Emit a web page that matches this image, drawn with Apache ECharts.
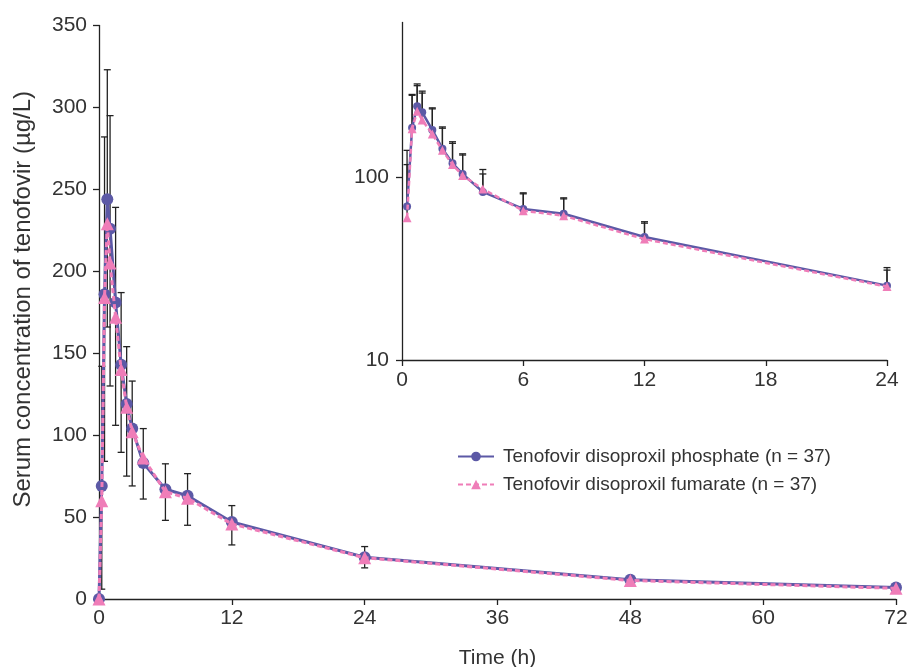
<!DOCTYPE html>
<html>
<head>
<meta charset="utf-8">
<script src="https://cdn.jsdelivr.net/npm/echarts@6/dist/echarts.min.js"></script>
<style>
html,body{margin:0;padding:0;background:#fff;}
#chart{width:909px;height:667px;}
</style>
</head>
<body>
<div id="chart"></div>
<script>
// ---- data ----
const times = [0, 0.25, 0.5, 0.75, 1, 1.5, 2, 2.5, 3, 4, 6, 8, 12, 24, 48, 72];
const tdpMean = [0, 69, 186, 244, 226, 181, 143, 119, 104, 83, 67, 63, 47, 25.5, 11.8, 7.0];
const tdfMean = [0, 60, 184, 229, 205, 172, 140, 117, 102, 86, 65.5, 61.5, 45.8, 25.2, 11.3, 6.5];
// main panel error bars (visible extent)
const mainBarLow  = [null, 6, 84, 166, 130, 106, 89.5, 75, 69, 61, 48, 45, 33, 19, 10, 6];
const mainBarHigh = [null, 142, 282, 323, 295, 239, 187, 154, 133, 104, 82.5, 76.5, 57, 32, 13.5, 8];
// inset upper error bars
const insetTdpHigh = [null, 140, 283, 323, 295, 239, 188, 156, 134, 104, 82, 77, 57, 32, null, null];
const insetTdfHigh = [null, 117, 280, 316, 288, 236, 185, 153, 132, 110, 81, 76, 56, 31, null, null];
const mainYTicks = [0, 50, 100, 150, 200, 250, 300, 350];
const mainXTicks = [0, 12, 24, 36, 48, 60, 72];
const insetXTicks = [0, 6, 12, 18, 24];
const insetYTicks = [10, 100];
const seriesNames = ['Tenofovir disoproxil phosphate (n = 37)', 'Tenofovir disoproxil fumarate (n = 37)'];

// ---- build ----
const PURPLE = '#5c59a6';
const PINK = '#ef7db8';
const INK = '#222';
const FONT = 'Liberation Sans, Arial, sans-serif';

const tdpMain = times.map((t, i) => [t, tdpMean[i]]);
const tdfMain = times.map((t, i) => [t, tdfMean[i]]);
const barMain = [];
times.forEach((t, i) => { if (mainBarLow[i] != null) barMain.push([t, mainBarLow[i], mainBarHigh[i]]); });

const inInset = (t) => t > 0 && t <= 24;
const tdpInset = [], tdfInset = [], barInsetTdp = [], barInsetTdf = [];
times.forEach((t, i) => {
  if (!inInset(t)) return;
  tdpInset.push([t, tdpMean[i]]);
  tdfInset.push([t, tdfMean[i]]);
  if (insetTdpHigh[i] != null) barInsetTdp.push([t, tdpMean[i], insetTdpHigh[i]]);
  if (insetTdfHigh[i] != null) barInsetTdf.push([t, tdfMean[i], insetTdfHigh[i]]);
});

function errRender(capHalf, lowerCap, lw) {
  return function (params, api) {
    const x = api.value(0), lo = api.value(1), hi = api.value(2);
    const p1 = api.coord([x, lo]);
    const p2 = api.coord([x, hi]);
    const st = { stroke: INK, lineWidth: lw };
    const children = [
      { type: 'line', shape: { x1: p1[0], y1: p1[1], x2: p2[0], y2: p2[1] }, style: st },
      { type: 'line', shape: { x1: p2[0] - capHalf, y1: p2[1], x2: p2[0] + capHalf, y2: p2[1] }, style: st }
    ];
    if (lowerCap) children.push({ type: 'line', shape: { x1: p1[0] - capHalf, y1: p1[1], x2: p1[0] + capHalf, y2: p1[1] }, style: st });
    return { type: 'group', children: children };
  };
}

const axisText = { color: '#333', fontSize: 21, fontFamily: FONT };
const axisLine = { lineStyle: { color: INK, width: 1.3 } };

const option = {
  animation: false,
  backgroundColor: '#fff',
  textStyle: { fontFamily: FONT },
  grid: [
    { left: 99, right: 13, top: 25.5, bottom: 68, containLabel: false, outerBoundsMode: 'none' },
    { left: 402, right: 22, top: 22.5, bottom: 307, containLabel: false, outerBoundsMode: 'none' }
  ],
  legend: {
    data: seriesNames,
    orient: 'vertical',
    left: 452, top: 442,
    itemWidth: 36, itemHeight: 12, itemGap: 9,
    textStyle: { color: '#333', fontSize: 19, fontFamily: FONT, padding: [0, 0, 0, 4] }
  },
  xAxis: [
    {
      gridIndex: 0, type: 'value', min: 0, max: 72, interval: 12,
      name: 'Time (h)', nameLocation: 'middle', nameGap: 49,
      nameTextStyle: { color: '#333', fontSize: 21, fontFamily: FONT },
      axisLine: axisLine, axisTick: { show: true, length: 6, lineStyle: { color: INK, width: 1.3 }, customValues: mainXTicks },
      axisLabel: Object.assign({ margin: 9, customValues: mainXTicks }, axisText),
      splitLine: { show: false }
    },
    {
      gridIndex: 1, type: 'value', min: 0, max: 24, interval: 6,
      axisLine: axisLine, axisTick: { show: true, length: 6, lineStyle: { color: INK, width: 1.3 }, customValues: insetXTicks },
      axisLabel: Object.assign({ margin: 10, customValues: insetXTicks }, axisText),
      splitLine: { show: false }
    }
  ],
  yAxis: [
    {
      gridIndex: 0, type: 'value', min: 0, max: 350, interval: 50,
      name: 'Serum concentration of tenofovir (µg/L)', nameLocation: 'middle', nameGap: 64,
      nameTextStyle: { color: '#333', fontSize: 24, fontFamily: FONT, padding: [0, 0, 0, 26] },
      axisLine: Object.assign({ show: true }, axisLine),
      axisTick: { show: true, length: 6, lineStyle: { color: INK, width: 1.3 }, customValues: mainYTicks },
      axisLabel: Object.assign({ margin: 12, customValues: mainYTicks }, axisText),
      splitLine: { show: false }
    },
    {
      gridIndex: 1, type: 'log', logBase: 10, min: 10, max: 700,
      axisLine: Object.assign({ show: true }, axisLine),
      axisTick: { show: true, length: 6, lineStyle: { color: INK, width: 1.3 }, customValues: insetYTicks },
      axisLabel: Object.assign({ margin: 13, customValues: insetYTicks }, axisText),
      splitLine: { show: false }
    }
  ],
  series: [
    // main error bars
    { type: 'custom', xAxisIndex: 0, yAxisIndex: 0, z: 1, silent: true,
      renderItem: errRender(3.5, true, 1.3), encode: { x: 0, y: [1, 2] }, data: barMain },
    // inset error bars
    { type: 'custom', xAxisIndex: 1, yAxisIndex: 1, z: 1, silent: true,
      renderItem: errRender(3.5, false, 1.3), encode: { x: 0, y: [1, 2] }, data: barInsetTdp },
    { type: 'custom', xAxisIndex: 1, yAxisIndex: 1, z: 1, silent: true,
      renderItem: errRender(3.5, false, 1.3), encode: { x: 0, y: [1, 2] }, data: barInsetTdf },
    // main lines
    { name: seriesNames[0], type: 'line', xAxisIndex: 0, yAxisIndex: 0, z: 3,
      data: tdpMain, symbol: 'circle', symbolSize: 12,
      itemStyle: { color: PURPLE }, lineStyle: { color: PURPLE, width: 3 } },
    { name: seriesNames[1], type: 'line', xAxisIndex: 0, yAxisIndex: 0, z: 4,
      data: tdfMain, symbol: 'triangle', symbolSize: 13,
      itemStyle: { color: PINK }, lineStyle: { color: PINK, width: 3, type: [5, 3] } },
    // inset lines
    { name: seriesNames[0], type: 'line', xAxisIndex: 1, yAxisIndex: 1, z: 3,
      data: tdpInset, symbol: 'circle', symbolSize: 8,
      itemStyle: { color: PURPLE }, lineStyle: { color: PURPLE, width: 2.5 } },
    { name: seriesNames[1], type: 'line', xAxisIndex: 1, yAxisIndex: 1, z: 4,
      data: tdfInset, symbol: 'triangle', symbolSize: 9,
      itemStyle: { color: PINK }, lineStyle: { color: PINK, width: 2.5, type: [5, 3] } }
  ]
};

const chart = echarts.init(document.getElementById('chart'), null, { renderer: 'canvas' });
chart.setOption(option);
</script>
</body>
</html>
